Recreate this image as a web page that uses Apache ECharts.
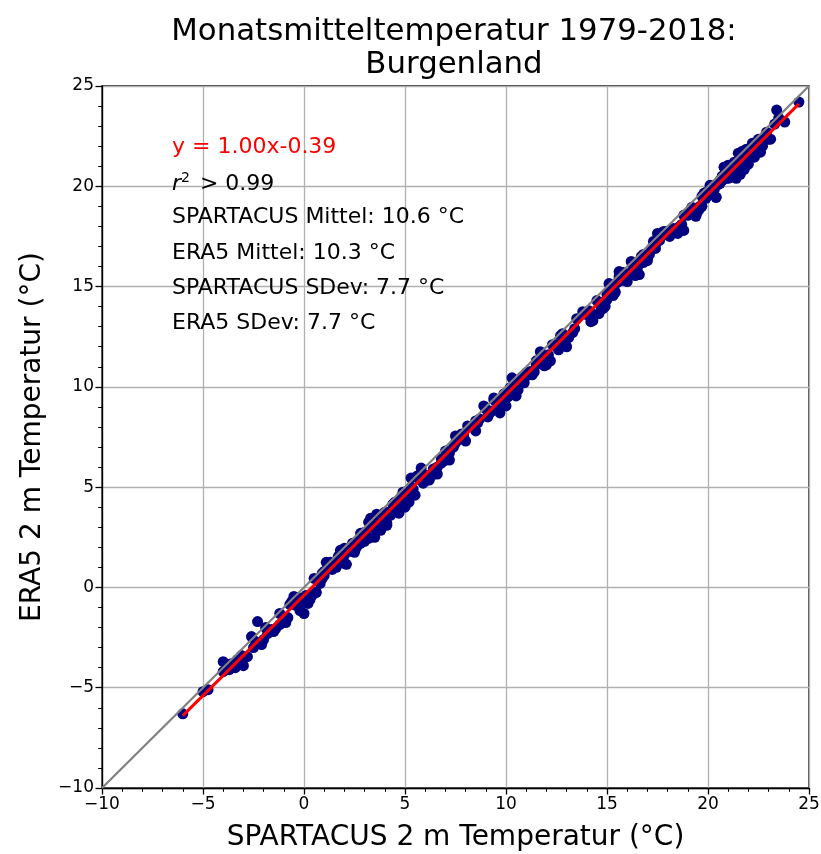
<!DOCTYPE html>
<html><head><meta charset="utf-8">
<script src="https://cdn.jsdelivr.net/npm/echarts@6/dist/echarts.min.js"></script>
<style>html,body{margin:0;padding:0;background:#fff}#c{width:821px;height:854px}</style>
</head><body><div id="c"></div>
<script>
// SPARTACUS (x) and ERA5 (y) monthly mean temperatures (grouped by month)
const spartacus = [
 -1.2,0.8,-3.4,1.5,-0.5,-2.1,2.3,0.2,-4.0,-1.8,1.1,-0.9,3.0,-2.8,0.5,-6.0,-0.2,1.9,-3.7,2.6,
 2.5,-0.3,4.1,1.2,-2.5,3.3,0.6,5.0,-1.4,2.0,-5.0,3.8,1.7,-0.8,4.5,0.0,2.9,-3.0,1.4,3.6,
 5.8,7.2,4.5,6.5,8.1,3.9,5.2,7.8,6.0,4.8,9.0,6.8,5.5,7.5,3.2,6.3,8.6,5.0,7.0,4.2,
 11.2,10.5,12.8,9.8,11.8,13.5,10.1,12.2,11.0,9.4,12.6,10.8,13.0,11.5,14.2,10.3,12.0,9.9,11.4,13.8,
 15.6,16.5,14.8,17.2,15.1,16.0,18.0,14.3,16.8,15.9,17.5,14.9,16.3,15.4,17.8,16.1,14.6,15.8,17.0,16.6,
 19.5,20.5,18.8,21.2,19.9,20.8,18.5,19.2,21.8,20.1,19.0,20.4,22.5,19.7,18.2,21.0,20.2,19.4,21.5,20.9,
 21.5,22.3,20.8,23.0,21.9,22.8,20.4,24.5,21.2,22.0,23.5,21.0,22.6,20.6,21.7,23.4,22.1,21.4,22.9,20.9,
 20.6,21.8,19.8,22.4,20.9,21.3,19.5,22.0,20.2,21.0,23.1,20.5,21.6,19.9,22.7,20.8,21.9,20.3,21.1,22.2,
 15.8,16.9,14.9,17.6,16.2,15.3,18.3,16.6,14.5,17.1,15.6,16.4,18.8,15.0,17.3,16.0,14.2,17.9,15.4,16.7,
 10.6,11.5,9.7,12.3,10.9,8.9,11.9,10.2,13.1,9.4,11.2,10.0,12.7,8.5,11.0,10.4,9.1,12.0,10.7,11.7,
 5.3,6.2,4.4,7.0,5.6,3.6,6.6,4.9,8.0,5.9,2.8,6.9,4.1,5.1,7.5,3.2,6.0,4.7,8.5,5.4,
 0.9,2.1,-0.7,3.0,1.5,-1.9,2.6,0.3,-3.3,1.8,-4.75,1.0,3.5,-0.3,2.3,-2.6,0.6,4.0,-1.2,1.3,
 -2.3,0.4,1.6,-0.6,2.0,-1.5,0.9,-3.1,2.8,-0.1,
 1.0,3.1,-1.0,2.4,4.3,0.1,-2.0,3.5,1.8,-4.0,
 6.6,5.3,7.9,4.0,8.4,5.7,6.9,4.6,7.4,5.9,
 10.9,12.4,9.6,11.7,13.3,10.0,12.9,11.3,9.2,12.1,
 15.3,16.7,14.7,17.4,16.2,15.0,17.9,16.4,15.7,14.1,
 20.0,19.3,21.4,18.7,20.6,22.0,19.6,21.1,18.9,20.3,
 22.4,21.1,23.3,20.7,22.0,21.6,23.8,22.7,20.2,21.8,
 21.4,20.0,22.5,19.6,21.7,20.7,22.9,21.2,19.7,22.1,
 16.3,15.1,17.4,14.7,16.8,18.1,15.5,17.0,14.0,18.6,
 11.1,9.9,12.5,10.3,8.7,11.6,9.3,12.9,10.8,13.4,
 5.7,4.3,6.8,3.4,7.7,5.0,6.4,2.5,4.8,7.2,
 1.4,-0.4,2.7,0.7,-1.6,3.3,-2.4,0.1,2.0,-3.6
];
const era5 = [
 -1.3,0.2,-4.0,1.2,-0.45,-2.85,1.9,-0.8,-4.2,-2.3,1.25,-1.75,2.75,-3.45,0.45,-6.3,-1.15,1.75,-4.1,2.25,
 1.75,-0.7,3.1,1.0,-3.0,3.45,-0.25,4.75,-2.05,1.95,-5.2,2.85,1.55,-1.5,4.15,-1.3,2.3,-3.9,1.1,3.65,
 5.95,6.35,4.25,5.85,8.05,3.45,4.25,7.65,5.3,4.45,8.9,6.2,4.6,7.2,3.25,5.55,8.2,4.0,6.8,3.7,
 10.75,9.55,12.65,9.1,11.45,13.4,9.5,11.3,10.7,9.45,11.85,10.4,12.0,11.3,13.7,10.45,11.15,9.65,10.75,13.75,
 15.5,15.9,13.9,16.9,15.15,15.25,17.6,13.3,16.6,15.4,17.65,14.05,16.05,14.75,17.75,15.65,13.65,15.65,16.3,16.25,
 18.75,20.1,17.8,21.0,19.4,20.95,17.65,18.95,21.15,20.05,18.55,19.45,22.35,19.0,17.85,20.9,19.6,18.5,21.2,20.95,
 21.65,21.45,20.55,22.35,21.85,22.35,19.45,24.2,20.5,21.65,23.4,20.4,21.7,20.3,21.75,23.8,21.7,20.4,22.7,20.4,
 20.15,20.85,19.65,21.7,20.55,21.2,18.9,21.1,19.9,21.05,22.35,20.1,20.6,19.7,22.2,20.95,21.05,20.05,20.45,22.15,
 15.7,16.3,14.0,17.3,16.25,14.55,17.9,15.6,14.3,16.6,15.75,15.55,18.55,14.35,17.25,15.55,13.25,17.75,14.7,16.35,
 9.85,11.1,8.7,12.1,10.4,9.05,11.05,9.95,12.45,9.35,10.75,9.05,12.55,7.8,10.65,10.3,8.5,11.1,10.4,11.75,
 5.45,5.35,4.15,6.35,5.55,3.15,5.65,4.75,7.3,5.55,2.7,6.3,3.2,4.8,7.55,2.45,5.6,3.7,8.3,4.9,
 0.45,1.15,-0.85,2.3,1.15,-2.0,2.0,-0.6,-3.6,1.85,-5.1,0.6,2.5,-0.5,1.8,-2.45,-0.25,3.75,-1.85,1.25,
 -1.7,-0.4,1.0,-0.7,1.2,-2.2,0.7,-3.4,2.2,-0.8,
 0.8,2.5,-1.6,2.2,3.6,-0.6,-2.6,3.3,1.6,-3.7,
 6.0,5.0,7.6,3.4,8.0,5.6,6.4,4.1,7.0,5.2,
 10.2,12.1,9.1,11.4,12.7,9.7,12.5,10.6,8.7,11.6,
 14.8,16.5,14.0,16.9,15.6,14.6,17.6,15.8,15.3,13.8,
 19.7,18.7,21.0,18.1,20.2,21.5,19.0,20.9,18.6,19.8,
 22.1,20.6,23.1,20.3,21.4,21.3,23.2,22.0,19.9,21.6,
 21.0,19.6,22.0,18.9,21.3,20.5,22.4,20.7,19.5,21.5,
 15.9,14.7,17.1,14.2,16.2,17.5,15.2,16.4,13.6,18.0,
 10.6,9.4,12.1,9.7,8.4,11.3,8.8,12.3,10.5,12.9,
 5.4,3.8,6.4,3.0,7.4,4.5,5.9,2.1,4.5,6.7,
 0.9,-0.9,2.3,0.4,-2.1,3.0,-2.7,-0.4,1.6,-3.8
];
const slope = 1.00, intercept = -0.39;
const axisMin = -10, axisMax = 25, tickStep = 5;
const annotations = [
  {text: 'y = 1.00x-0.39', color: '#ff0000'},
  {text: '{i|r}{s|2}{n| > 0.99}', color: '#000'},
  {text: 'SPARTACUS Mittel: 10.6 °C', color: '#000'},
  {text: 'ERA5 Mittel: 10.3 °C', color: '#000'},
  {text: 'SPARTACUS SDev: 7.7 °C', color: '#000'},
  {text: 'ERA5 SDev: 7.7 °C', color: '#000'}
];

const pts = spartacus.map((x, i) => [x, era5[i]]);
const xmin = Math.min(...spartacus), xmax = Math.max(...spartacus);
const fitLine = [[xmin, slope * xmin + intercept], [xmax, slope * xmax + intercept]];
const idLine = [[axisMin, axisMin], [axisMax, axisMax]];

const FONT = 'DejaVu Sans';
function axisCfg(name, gap) {
  return {
    type: 'value', min: axisMin, max: axisMax, interval: tickStep,
    name: name, nameLocation: 'middle', nameGap: gap,
    nameTextStyle: {fontFamily: FONT, fontSize: 28, color: '#000'},
    axisLine: {show: true, onZero: false, lineStyle: {color: '#000', width: 1.3}},
    axisTick: {show: true, inside: false, length: 6.5, lineStyle: {color: '#000', width: 1.3}},
    minorTick: {show: true, splitNumber: 5, length: 3.8, lineStyle: {color: '#000', width: 1}},
    axisLabel: {fontFamily: FONT, fontSize: 17, color: '#000', margin: 8,
      formatter: v => (v < 0 ? '\u2212' + Math.abs(v) : '' + v)},
    splitLine: {show: true, lineStyle: {color: '#b0b0b0', width: 1.3}}
  };
}

const chart = echarts.init(document.getElementById('c'), null, {renderer: 'canvas'});
const graphics = annotations.map((a, i) => ({
  type: 'text', left: 172, top: 136 + i * 35.3, z: 100,
  style: {
    text: a.text, fill: a.color, fontFamily: FONT, fontSize: 22,
    rich: {
      i: {fontFamily: FONT, fontSize: 22, fontStyle: 'italic', fill: '#000'},
      s: {fontFamily: FONT, fontSize: 14, fill: '#000', verticalAlign: 'top', padding: [0, 3, 12, 0]},
      n: {fontFamily: FONT, fontSize: 22, fill: '#000'}
    }
  }
}));
chart.setOption({
  animation: false,
  backgroundColor: '#fff',
  title: {
    text: 'Monatsmitteltemperatur 1979-2018:\nBurgenland',
    left: 449, top: 10, textAlign: 'center',
    textStyle: {fontFamily: FONT, fontSize: 30.8, fontWeight: 'normal', color: '#000', lineHeight: 33}
  },
  grid: {left: 102, right: 12, top: 86, bottom: 66, outerBoundsMode: 'none', containLabel: false,
         show: true, borderColor: '#000', borderWidth: 1.3, backgroundColor: 'transparent'},
  xAxis: axisCfg('SPARTACUS 2 m Temperatur (°C)', 36),
  yAxis: axisCfg('ERA5 2 m Temperatur (°C)', 55),
  graphic: graphics,
  series: [
    {type: 'scatter', data: pts, symbolSize: 11, itemStyle: {color: '#000080', opacity: 1}, z: 2},
    {type: 'line', data: idLine, showSymbol: false, lineStyle: {color: '#808080', width: 2.2}, z: 3},
    {type: 'line', data: fitLine, showSymbol: false, lineStyle: {color: '#ff0000', width: 3}, z: 4}
  ]
});
</script></body></html>
